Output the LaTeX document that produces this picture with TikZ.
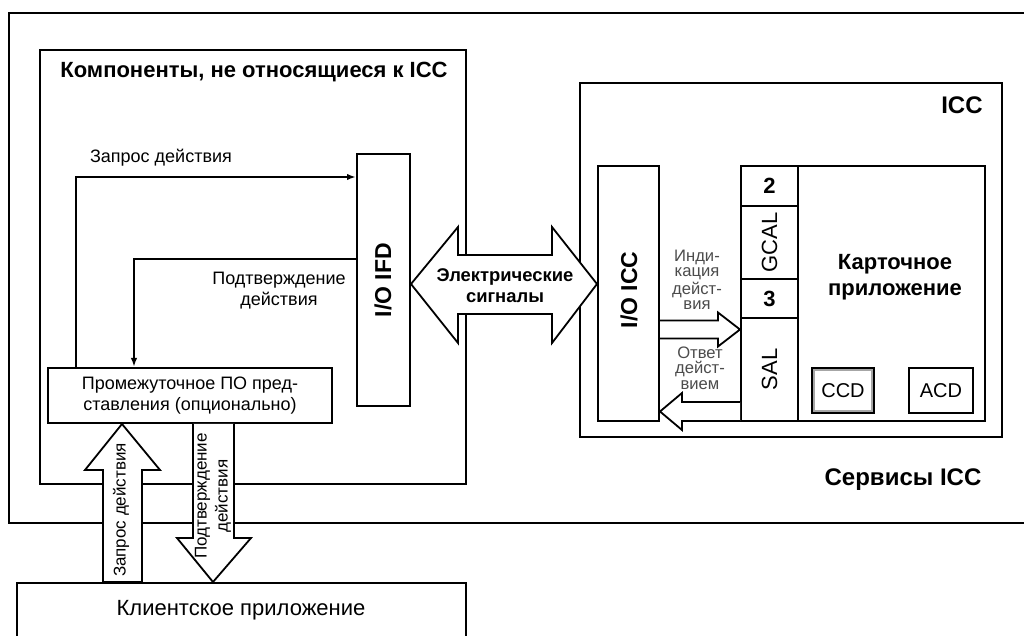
\documentclass[tikz,border=0pt]{standalone}
\usepackage{fontspec}
\setmainfont{Liberation Sans}
\usetikzlibrary{fit,arrows.meta,calc}
\tikzset{
  box/.style={draw, line width=1pt, inner sep=0pt, fill=white},
  fat/.style={draw, line width=0.9pt, fill=white, line join=miter},
  thinarrow/.style={line width=0.9pt, -{Latex[length=4.5pt,width=3.2pt]}},
  lbl/.style={font=\fontsize{9}{10.5}\selectfont, align=center, inner sep=0pt},
  blbl/.style={font=\bfseries\fontsize{11}{13}\selectfont, align=center, inner sep=0pt},
  smalllbl/.style={font=\fontsize{8.3}{7.7}\selectfont, align=center, inner sep=0pt, text=black!70},
}
\begin{document}
\begin{tikzpicture}[x=0.5pt,y=-0.5pt]
\useasboundingbox (0,0) rectangle (1024,636);
\clip (0,0) rectangle (1024,636);
% outer frame (open to the right)
\draw[line width=1pt] (1030,13) -- (9,13) -- (9,523) -- (1030,523);
% main boxes
\node[box, fit={(40,50) (466,484)}] (noncc) {};
\node[box, fit={(580,83) (1002,437)}, line width=1.2pt] (icc) {};
\node[box, fit={(17,583) (466,660)}] (client) {};
% thin arrows
\node[box, fit={(48,368) (332,423)}] (mw) {};
\node[box, fit={(357,154) (410,406)}] (ifd) {};
\draw[thinarrow] (mw.north -| 76,0) -- (76,177) -- (ifd.west |- 0,177);
\draw[thinarrow] (ifd.west |- 0,259) -- (134,259) -- (mw.north -| 134,0);
% ICC internals
\node[box, fit={(598,166) (659,421)}] (ioicc) {};
\node[box, fit={(741,166) (985,421)}] (card) {};
\node[box, fit={(741,166) (798,206)}] (l2) {};
\node[box, fit={(741,206) (798,279)}] (gcal) {};
\node[box, fit={(741,279) (798,318)}] (l3) {};
\node[box, fit={(741,318) (798,421)}] (sal) {};
\node[box, fit={(812,368) (874,413)}] (ccd) {};
\draw[gray!70, line width=0.6pt] ($(ccd.south west)+(3,-3)$) rectangle ($(ccd.north east)+(-3,3)$);
\node[box, fit={(909,368) (973,413)}] (acd) {};
% fat arrows
\draw[fat] (ifd.east |- 0,284) -- (458,227) -- (458,255) -- (552,255) -- (552,227)
  -- (ioicc.west |- 0,284) -- (552,343) -- (552,314) -- (458,314) -- (458,343) -- cycle;
\draw[fat] (ioicc.east |- 0,320.5) -- (718,320.5) -- (718,312.5) -- (sal.west |- 0,329.5)
  -- (718,346.5) -- (718,338.5) -- (ioicc.east |- 0,338.5);
\draw[fat] (sal.west |- 0,402) -- (682,402) -- (682,393) -- (ioicc.east |- 0,411.5)
  -- (682,430) -- (682,421) -- (sal.west |- 0,421);
\draw[fat] (mw.south -| 122,0) -- (160,470) -- (142,470) -- (client.north -| 142,0)
  -- (client.north -| 103,0) -- (103,470) -- (85,470) -- cycle;
\draw[fat] (mw.south -| 193,0) -- (193,538) -- (177,538) -- (client.north -| 213,0)
  -- (251,538) -- (234,538) -- (mw.south -| 234,0);
% labels
\node[font=\bfseries\fontsize{11}{12}\selectfont, anchor=west, inner sep=0pt] (title) at (60,72) {Компоненты, не относящиеся к ICC};
\node[lbl] (lreq) at (161,158) {Запрос действия};
\node[lbl] (lconf) at (279,291) {Подтверждение\\действия};
\node[blbl, rotate=90, font=\bfseries\fontsize{11.5}{13}\selectfont] at (383,280) {I/O IFD};
\node[blbl, font=\bfseries\fontsize{9.2}{10.5}\selectfont] (lelec) at (505,286) {Электрические\\сигналы};
\node[blbl, font=\bfseries\fontsize{12}{14}\selectfont, anchor=east] (licc) at (983,105) {ICC};
\node[blbl, rotate=90, font=\bfseries\fontsize{11.5}{13}\selectfont] at (629,290) {I/O ICC};
\node[blbl] at (l2.center) {2};
\node[font=\fontsize{11}{13}\selectfont, rotate=90, inner sep=0pt] at (gcal.center) {GCAL};
\node[blbl] at (l3.center) {3};
\node[font=\fontsize{11}{13}\selectfont, rotate=90, inner sep=0pt] at (sal.center) {SAL};
\node[blbl] (lcard) at (895,277) {Карточное\\приложение};
\node[font=\fontsize{10}{12}\selectfont, inner sep=0pt] at (ccd.center) {CCD};
\node[font=\fontsize{10}{12}\selectfont, inner sep=0pt] at (acd.center) {ACD};
\node[smalllbl] (lind) at (697,280) {Инди-\\кация\\дейст-\\вия};
\node[smalllbl] (lresp) at (700,368) {Ответ\\дейст-\\вием};
\node[blbl, font=\bfseries\fontsize{12}{14}\selectfont] (lserv) at (903,480) {Сервисы ICC};
\node[lbl] at (mw.center) {Промежуточное ПО пред-\\ставления (опционально)};
\node[font=\fontsize{11}{12}\selectfont, inner sep=0pt] at (241,610) {Клиентское приложение};
\node[lbl, rotate=90, font=\fontsize{8.5}{10}\selectfont] at (121,510) {Запрос действия};
\node[lbl, rotate=90, font=\fontsize{8.5}{10.5}\selectfont] at (213,496) {Подтверждение\\действия};
\end{tikzpicture}
\end{document}
